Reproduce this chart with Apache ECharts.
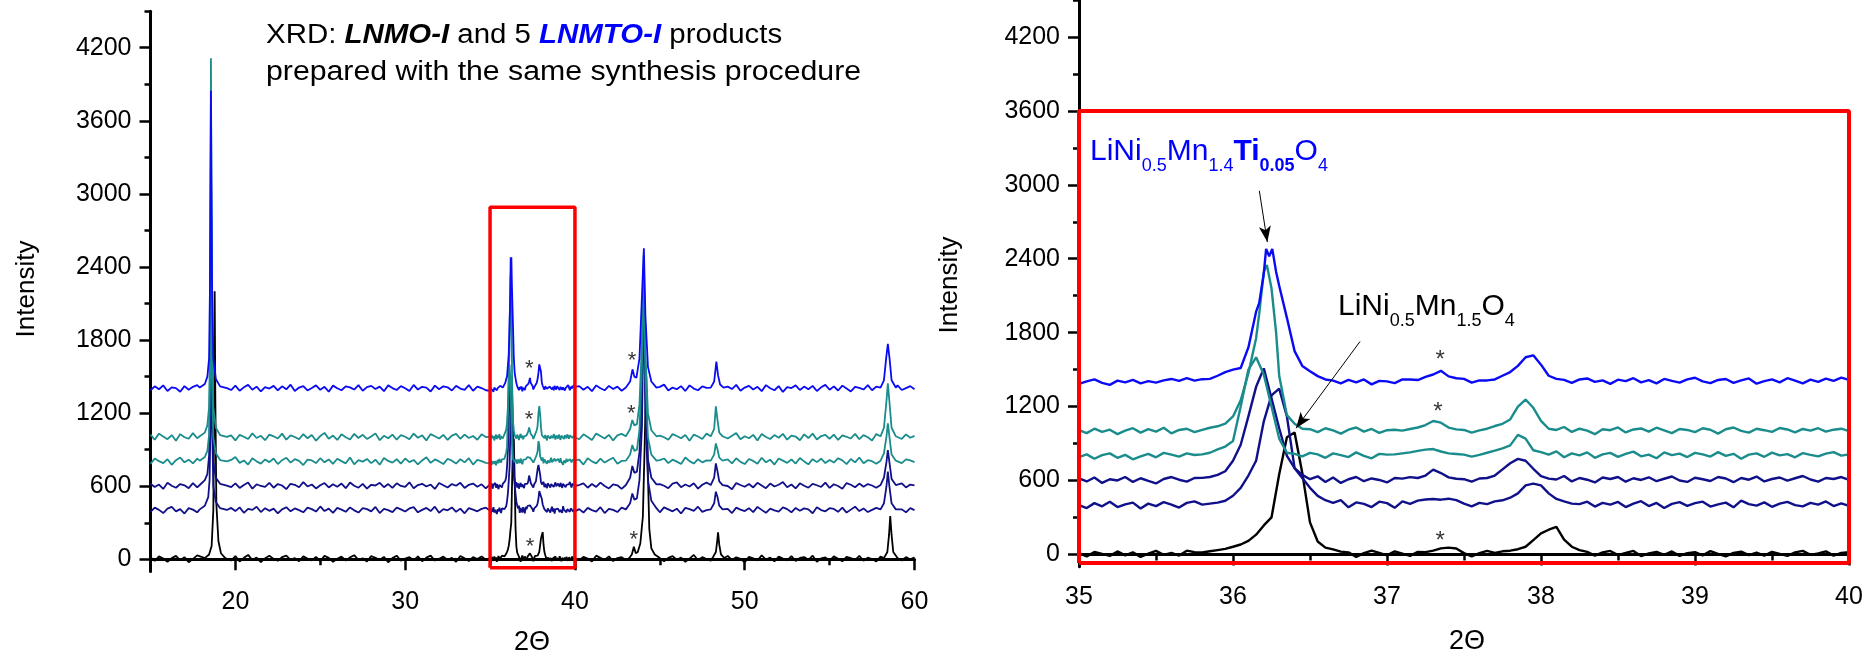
<!DOCTYPE html>
<html>
<head>
<meta charset="utf-8">
<title>XRD: LNMO-I and LNMTO-I</title>
<script src="https://cdn.jsdelivr.net/npm/echarts@6/dist/echarts.min.js"></script>
<style>
  html, body { margin: 0; padding: 0; background: #ffffff; }
  #chart { width: 1875px; height: 659px; }
</style>
</head>
<body>
<div id="chart"></div>
<script>
// ---------------------------------------------------------------------------
// XRD patterns: LNMO-I (black) and five LNMTO-I products, stacked by offset.
// Intensities are counts above each pattern's own baseline.
// ---------------------------------------------------------------------------
const sampleNames  = ['LNMO-I', 'LNMTO-I a', 'LNMTO-I b', 'LNMTO-I c', 'LNMTO-I d', 'LNMTO-I e'];
const sampleColors = ['#000000', '#10108a', '#10108a', '#1a8c8c', '#1a8c8c', '#0a0af5'];
const stackOffsets = [0, 400, 600, 800, 1000, 1400];

// scan grids (2-theta, degrees)
const lowStart = 15.0, highStart = 40.25, wideStep = 0.25;   // coarse scan outside the window
const zoomStart = 35.0, zoomStep = 0.05;                    // fine scan 35-40
const zoomWindow = [35, 40];

// axis ticks
const leftThetaLabels  = [20, 30, 40, 50, 60];
const leftThetaMinor   = [15, 25, 35, 45, 55];
const zoomLabels       = [35, 36, 37, 38, 39, 40];
const zoomMinor        = [35.5, 36.5, 37.5, 38.5, 39.5];
const intensityLabels  = [0, 600, 1200, 1800, 2400, 3000, 3600, 4200];
const intensityMinor   = [300, 900, 1500, 2100, 2700, 3300, 3900, 4500];

// ---- LNMO-I ---------------------------------------------------------------
const lnmoLow = [16,-12,24,6,-20,10,28,-8,18,-24, 4,32,20,12,30,8,-16,22,6,-10, 26,-18,12,36,-6,14,-22,8,30,2, -12,18,30,-4,10,-16,24,6,-8,20,
  -14,28,12,-20,4,22,-10,16,34,-6, 8,-18,26,12,-4,20,-24,10,30,-12, 6,18,-8,24,-16,14,30,-10,4,22, -6,12,-20,28,8,-14,18,2,24,-4];
const lnmoZoom = [10,-16,20,4,-12,24,-8,16,-20,6, 28,-4,12,-10,30,18,15,25,35,45, 62,80,110,160,235,300,650,950,990,660, 260,105,55,40,22,16,-20,10,30,12,
  -8,24,6,-12,20,18,30,49,55,48, 10,-16,10,28,12,25,30,42,62,116, 170,200,223,120,62,35,20,-10,16,28, -6,12,28,-14,8,20,-4,24,-12,10,
  18,-8,26,4,-16,12,22,-6,14,-10, 20,4,-12,16,28,-4,8,24,-10,12,18];
const lnmoHigh = [-8,20,6,-18,30,12,-4,24,-14,10, 18,-6,28,4,-22,16,32,-10,8,22, -16,12,26,-4,14,-20,6,36,-8,18, 2,-12,24,10,-18,28,-6,16,4,-24,
  20,8,-10,32,-2,14,-16,22,6,-8, 26,-14,12,18,-4,30,-20,8,16,-10, 24,4,-16,20,10,-6,28,-12,14,2, -18,22,8,-4,32,12,-10,18,-2,16];
const lnmoPeaks = [
  [[18.2,10],[18.45,40],[18.6,110],[18.7,400],[18.75,1200],[18.78,2200],[18.82,1300],[18.88,450],[19.0,150],[19.15,50],[19.4,10]],
  [[43.2,10],[43.35,40],[43.47,104],[43.58,50],[43.7,60],[43.85,130],[44.0,350],[44.1,900],[44.2,1500],[44.28,800],[44.38,250],[44.5,90],[44.7,40],[45.0,10]],
  [[48.1,10],[48.3,60],[48.38,150],[48.43,221],[48.5,120],[48.6,40],[48.8,10]],
  [[58.2,10],[58.4,60],[58.5,200],[58.57,355],[58.65,200],[58.75,60],[59.0,10]]
];

// ---- LNMTO-I a (offset 400) -----------------------------------------------
const lnmtoALow = [-10,24,6,-20,16,30,-6,12,-24,20, 8,-14,28,4,18,-8,36,-16,10,22, -4,26,-18,14,6,32,-12,20,-2,16, -22,10,28,-6,18,4,-14,24,12,-8,
  34,-4,16,-18,22,8,-10,26,2,-16, 20,12,-6,30,-20,14,4,-12,24,10, -8,18,28,-14,6,22,-4,32,-18,12, 2,26,-10,16,-22,20,8,-6,14,24];
const lnmtoAZoom = [0,-24,16,-10,28,-16,6,20,-28,12, -8,24,4,-20,18,30,4,12,20,35, 76,140,240,360,680,890,945,720,300,220, 140,75,40,18,40,-18,22,10,-16,28,
  16,-22,30,10,36,45,50,44,52,40, 12,-10,18,8,30,39,60,95,160,175, 160,95,50,30,12,8,28,-12,18,4, 26,-16,12,32,-8,18,-24,10,24,-6,
  16,28,-12,6,20,-18,36,8,-4,22, -14,12,26,0,-10,18,4,30,-8,14,-6];
const lnmtoAHigh = [12,-16,22,4,-8,28,-20,14,6,-12, 24,-4,18,-18,30,8,-10,20,2,-14, 26,10,-6,16,-24,22,12,-2,32,-10, 4,18,-16,28,-6,14,-20,24,8,-4,
  20,-12,30,6,-18,16,2,-8,26,12, -14,22,-2,18,10,-22,28,4,-6,20, 14,-10,24,-16,8,32,-4,18,-12,6, 22,-8,16,2,-18,26,10,-14,20,4];
const lnmtoAPeaks = [
  [[17.9,10],[18.2,40],[18.4,110],[18.48,250],[18.53,700],[18.58,2400],[18.63,700],[18.7,200],[18.85,70],[19.1,20],[19.5,5]],
  [[43.0,10],[43.25,60],[43.38,141],[43.5,90],[43.65,100],[43.8,250],[43.95,700],[44.05,1800],[44.15,800],[44.3,250],[44.5,80],[44.8,20]],
  [[48.0,10],[48.2,60],[48.3,155],[48.4,110],[48.5,40],[48.7,10]],
  [[58.0,10],[58.2,60],[58.35,200],[58.43,320],[58.52,200],[58.65,60],[58.9,10]]
];

// ---- LNMTO-I b (offset 600) -----------------------------------------------
const lnmtoBLow = [20,-6,14,-22,28,4,-12,18,8,-16, 26,-10,16,32,-4,12,-18,22,6,-8, 24,-14,10,30,-20,16,2,-6,28,-12, 18,6,-24,20,12,-8,34,-2,14,-18,
  8,26,-10,16,-4,22,-16,30,4,-12, 20,-20,12,6,28,-8,18,-14,24,2, -6,32,-16,10,20,-2,14,-22,26,8, -10,18,4,28,-14,12,22,-4,16,-18];
const lnmtoBZoom = [16,-8,24,-20,10,0,28,-12,18,-4, -24,12,28,6,-10,20,21,28,45,75, 160,290,520,760,910,666,424,200,100,45, 10,34,-12,24,-20,10,28,-6,16,4,
  -16,20,15,27,20,40,88,60,25,14, 10,-10,16,20,40,90,140,175,160,95, 35,15,8,36,-8,20,6,-16,24,12, 28,-10,18,4,26,-6,14,32,0,-12,
  22,10,-4,28,16,-14,20,6,32,-8, 12,24,-2,18,36,8,-10,20,12,28,4];
const lnmtoBHigh = [10,24,-12,18,-6,30,2,-18,16,8, -22,26,12,-4,20,-14,28,6,-10,18, 4,-16,22,32,-8,14,-2,24,-20,12, 30,-6,16,-12,20,2,-24,26,10,-4,
  18,-10,28,6,-16,22,-2,12,34,-8, 14,-18,24,4,-12,20,8,-6,30,-14, 16,2,-20,26,12,-8,22,-4,18,6, -12,28,10,-16,20,-2,24,-10,14,8];
const lnmtoBPeaks = [
  [[17.9,10],[18.2,50],[18.35,100],[18.45,250],[18.52,750],[18.57,2600],[18.62,750],[18.7,200],[18.85,70],[19.1,20],[19.5,5]],
  [[43.0,10],[43.25,70],[43.38,166],[43.5,110],[43.65,120],[43.8,280],[43.95,800],[44.05,1700],[44.15,750],[44.3,220],[44.5,70],[44.8,15]],
  [[48.0,10],[48.2,70],[48.3,188],[48.4,120],[48.5,40],[48.7,10]],
  [[58.0,10],[58.2,70],[58.35,200],[58.43,297],[58.52,200],[58.65,60],[58.9,10]]
];

// ---- LNMTO-I c (offset 800) -----------------------------------------------
const lnmtoCLow = [-16,28,6,-10,22,-24,14,36,-4,18, -12,26,2,-20,32,10,-6,24,-18,16, 40,-8,12,-22,30,4,-14,20,-2,28, -18,14,34,-6,22,8,-26,18,12,-10,
  30,-4,20,-16,26,6,-12,36,-20,14, 2,24,-10,18,-24,32,8,-6,22,-14, 28,-2,16,-20,12,38,-8,20,4,-18, 26,10,-14,22,-4,30,-22,16,6,-8];
const lnmtoCZoom = [-10,12,-24,6,20,-16,8,-28,-4,16, -12,24,10,-6,20,7,12,25,52,75, 120,400,700,800,660,400,140,25,16,-4, 24,12,-16,20,6,-10,28,0,-20,16,
  10,12,20,28,40,50,55,35,20,15, 10,-6,8,25,42,60,85,170,140,45, 30,10,36,-12,20,4,28,-16,12,24, -8,16,34,-4,10,-20,28,6,18,-10,
  24,12,-6,30,0,16,-24,10,20,-8, 26,4,14,-12,22,8,-4,18,30,2,12];
const lnmtoCHigh = [18,-22,30,4,-12,26,-6,16,34,-16, 8,-20,24,12,-8,32,-2,20,-24,14, 28,-10,18,2,-18,36,6,-14,22,-4, 12,-26,26,16,-6,20,-12,30,0,-18,
  24,8,-16,34,-4,18,-22,28,10,-8, 20,-14,32,4,-20,22,-2,26,-10,16, -6,30,12,-18,24,-4,36,-12,14,6, -16,22,8,-24,28,2,-10,20,12,-2];
const lnmtoCPeaks = [
  [[17.9,10],[18.2,40],[18.35,90],[18.45,220],[18.51,700],[18.56,2700],[18.61,750],[18.7,200],[18.85,70],[19.1,15],[19.5,5]],
  [[43.0,10],[43.25,60],[43.38,138],[43.5,90],[43.65,100],[43.8,260],[43.95,800],[44.05,1600],[44.15,700],[44.3,200],[44.5,60],[44.8,10]],
  [[48.0,10],[48.2,60],[48.3,152],[48.4,100],[48.5,35],[48.7,10]],
  [[58.0,10],[58.2,70],[58.35,210],[58.43,317],[58.52,210],[58.65,60],[58.9,10]]
];

// ---- LNMTO-I d (offset 1000) ----------------------------------------------
const lnmtoDLow = [24,-18,32,8,-14,20,-26,28,2,-10, 36,-6,16,-20,26,12,-16,30,-2,18, -24,22,6,-12,34,-4,14,-22,24,10, -8,32,-18,18,4,-14,28,-6,20,-26,
  12,38,-10,16,-20,26,2,-16,30,-4, 22,-12,8,34,-22,14,-6,24,-18,20, 6,-14,32,-2,18,-24,28,10,-8,22, -20,16,30,-10,24,-4,12,-18,26,4];
const lnmtoDZoom = [8,-16,20,-6,12,-24,4,24,-12,16, -4,28,-18,10,20,-8,10,28,40,62, 120,250,470,755,1293,1160,450,130,60,20, 16,-8,24,6,-20,12,30,-4,18,-14,
  8,12,5,18,30,50,83,69,29,15, 10,-12,6,20,42,60,95,200,257,190, 83,20,10,34,-6,20,4,-24,16,8, 30,-10,14,22,-4,28,6,-16,18,10,
  -8,24,12,-20,16,30,2,-12,20,8, -6,26,14,-10,18,4,24,-4,12,20,0];
const lnmtoDHigh = [-14,26,4,-20,32,12,-8,22,-24,18, 30,-4,14,-16,24,6,-22,34,-10,16, 2,-18,28,12,-6,20,-26,24,8,-12, 32,-2,18,-20,26,-8,14,36,-14,10,
  -6,22,-24,28,4,-12,20,-2,30,-18, 16,8,-22,26,-4,32,-16,12,22,-10, 24,-20,18,6,-8,30,-14,20,2,-24, 28,-6,12,-18,22,10,-12,26,-2,14];
const lnmtoDPeaks = [
  [[17.9,10],[18.2,40],[18.35,100],[18.45,250],[18.5,700],[18.56,3113],[18.62,900],[18.7,250],[18.85,80],[19.1,20],[19.5,5]],
  [[36.17,950],[36.2,1293],[36.22,1350],[36.25,1160],[36.28,800]],
  [[43.0,10],[43.25,70],[43.38,144],[43.5,100],[43.65,110],[43.8,270],[43.95,800],[44.05,1500],[44.15,700],[44.3,200],[44.5,60],[44.8,10]],
  [[48.0,10],[48.2,70],[48.3,256],[48.4,140],[48.5,40],[48.7,10]],
  [[58.0,10],[58.2,80],[58.35,300],[58.43,445],[58.52,300],[58.65,80],[58.9,10]]
];

// ---- LNMTO-I e (offset 1400) ----------------------------------------------
const lnmtoELow = [-12,20,-4,28,-18,12,6,-24,22,-8, 16,30,-14,8,-6,24,-20,18,4,-10, 26,-16,12,32,-8,18,-22,14,2,24, -12,20,-4,34,-18,10,22,-14,6,28,
  -8,16,-24,26,4,-12,20,12,-6,30, -16,14,24,-2,18,-20,28,6,-10,22, 4,-18,32,-6,16,10,-22,26,-4,20, 12,-14,24,2,-8,30,-16,18,6,-12];
const lnmtoEZoom = [-16,4,20,-8,-24,10,-4,16,-12,6, -6,12,24,8,30,10,22,25,50,80, 100,113,280,570,900,1050,780,520,250,130, 87,47,20,10,-12,16,-4,20,-20,8,
  4,-10,20,20,15,40,60,90,45,30, 25,-6,12,12,20,50,80,130,200,216, 140,50,25,16,-8,20,28,0,12,-16, 18,6,30,-4,14,-12,24,8,-6,20,
  34,4,-10,16,24,-8,12,28,-14,6, 20,-4,30,10,-12,18,0,26,8,34,16];
const lnmtoEHigh = [22,-8,16,-20,28,4,-12,24,-2,18, -16,30,6,-10,20,-24,26,12,-6,16, 34,-14,10,-4,22,-18,28,2,-12,20, 8,-22,26,14,-8,18,-2,32,-16,10,
  24,-6,16,-20,30,4,-12,22,-26,14, 6,28,-10,18,-4,24,-18,12,32,-8, 20,-14,26,2,-22,16,8,-6,30,-12, 18,-2,24,-16,12,28,-10,6,22,-4];
const lnmtoEPeaks = [
  [[17.9,10],[18.2,40],[18.35,100],[18.45,250],[18.5,800],[18.56,2447],[18.62,900],[18.7,250],[18.85,80],[19.1,20],[19.5,5]],
  [[36.17,640],[36.2,880],[36.215,1080],[36.235,1020],[36.255,1080],[36.28,893],[36.3,780]],
  [[43.0,10],[43.25,60],[43.39,160],[43.5,100],[43.62,90],[43.8,250],[43.93,700],[44.06,1153],[44.15,600],[44.3,180],[44.5,60],[44.8,10]],
  [[48.0,10],[48.2,60],[48.33,223],[48.43,110],[48.55,35],[48.75,10]],
  [[58.0,10],[58.2,70],[58.33,250],[58.43,368],[58.53,250],[58.65,70],[58.9,10]]
];

// impurity reflections marked with asterisks (2-theta, stacked intensity)
const leftStars  = [[37.31, 1603], [43.36, 1672], [37.29, 1188], [43.32, 1231], [37.35, 145], [43.46, 200]];
const rightStars = [[37.345, 1621], [37.33, 1204], [37.345, 155]];

// framed 35-40 window (intensity span of the frame in each panel)
const leftFrameIntensity  = [-70, 2890];
const rightFrameIntensity = [-70, 3600];

// arrows pointing at the (311) reflections in the fine scan
const tiArrow   = [[36.171, 2951], [36.223, 2535]];
const lnmoArrow = [[36.825, 1728], [36.409, 1024]];

// ---------------------------------------------------------------------------
const lowScans  = [lnmoLow, lnmtoALow, lnmtoBLow, lnmtoCLow, lnmtoDLow, lnmtoELow];
const zoomScans = [lnmoZoom, lnmtoAZoom, lnmtoBZoom, lnmtoCZoom, lnmtoDZoom, lnmtoEZoom];
const highScans = [lnmoHigh, lnmtoAHigh, lnmtoBHigh, lnmtoCHigh, lnmtoDHigh, lnmtoEHigh];
const peakScans = [lnmoPeaks, lnmtoAPeaks, lnmtoBPeaks, lnmtoCPeaks, lnmtoDPeaks, lnmtoEPeaks];

function buildPattern(i) {
  const pts = [];
  lowScans[i].forEach((v, k) => pts.push([+(lowStart + k * wideStep).toFixed(3), v]));
  zoomScans[i].forEach((v, k) => pts.push([+(zoomStart + k * zoomStep).toFixed(3), v]));
  highScans[i].forEach((v, k) => pts.push([+(highStart + k * wideStep).toFixed(3), v]));
  // step-scan segments over the reflections replace the coarse points they span
  const spans = peakScans[i].map(seg => [seg[0][0], seg[seg.length - 1][0]]);
  const kept = pts.filter(p => !spans.some(s => p[0] >= s[0] - 1e-6 && p[0] <= s[1] + 1e-6));
  peakScans[i].forEach(seg => seg.forEach(p => kept.push(p.slice())));
  kept.sort((a, b) => a[0] - b[0]);
  return kept.map(p => [p[0], p[1] + stackOffsets[i]]);
}
const patterns = sampleNames.map((_, i) => buildPattern(i));

function frame(xr, yr) {
  return [[xr[0], yr[0]], [xr[1], yr[0]], [xr[1], yr[1]], [xr[0], yr[1]], [xr[0], yr[0]]];
}

// ---------------------------------------------------------------------------
const FONT = '"Liberation Sans", Arial, Helvetica, sans-serif';
const measureCtx = document.createElement('canvas').getContext('2d');
function fontOf(p) {
  return (p.italic ? 'italic ' : '') + (p.bold ? 'bold ' : '') + p.size + 'px ' + FONT;
}
// lays out a run of text pieces on a common baseline (subscripts dropped)
function textRun(x, baseline, pieces, color, stretch) {
  const sx = stretch || 1;
  let cx = x;
  const els = [];
  pieces.forEach(p => {
    const font = fontOf(p);
    measureCtx.font = font;
    const w = measureCtx.measureText(p.text).width;
    const b = baseline + (p.drop || 0);
    els.push({
      type: 'text', x: cx, y: b - 0.3465 * p.size, scaleX: sx, silent: true, z: 100,
      style: { text: p.text, font: font, fill: p.color || color, textAlign: 'left', verticalAlign: 'middle' }
    });
    cx += w * sx;
  });
  return els;
}
const MAIN = 30, SUB = 18, DROP = 10.5, TITLE = 27;
const graphics = [].concat(
  textRun(266, 45, [
    { text: 'XRD: ', size: TITLE },
    { text: 'LNMO-I', size: TITLE, bold: true, italic: true },
    { text: ' and 5 ', size: TITLE },
    { text: 'LNMTO-I', size: TITLE, bold: true, italic: true, color: '#0000ff' },
    { text: ' products', size: TITLE }
  ], '#000', 1.09),
  textRun(266, 81.7, [{ text: 'prepared with the same synthesis procedure', size: TITLE }], '#000', 1.12),
  textRun(1090, 162, [
    { text: 'LiNi', size: MAIN }, { text: '0.5', size: SUB, drop: DROP },
    { text: 'Mn', size: MAIN }, { text: '1.4', size: SUB, drop: DROP },
    { text: 'Ti', size: MAIN, bold: true }, { text: '0.05', size: SUB, drop: DROP, bold: true },
    { text: 'O', size: MAIN }, { text: '4', size: SUB, drop: DROP }
  ], '#0000ff'),
  textRun(1338, 317, [
    { text: 'LiNi', size: MAIN }, { text: '0.5', size: SUB, drop: DROP },
    { text: 'Mn', size: MAIN }, { text: '1.5', size: SUB, drop: DROP },
    { text: 'O', size: MAIN }, { text: '4', size: SUB, drop: DROP }
  ], '#000'),
  [
    { type: 'text', x: 27, y: 289, rotation: Math.PI / 2, silent: true,
      style: { text: 'Intensity', font: '26px ' + FONT, fill: '#000', textAlign: 'center', verticalAlign: 'middle' } },
    { type: 'text', x: 950, y: 285, rotation: Math.PI / 2, silent: true,
      style: { text: 'Intensity', font: '26px ' + FONT, fill: '#000', textAlign: 'center', verticalAlign: 'middle' } },
    { type: 'text', x: 532, y: 643, silent: true,
      style: { text: '2\u0398', font: '27px ' + FONT, fill: '#000', textAlign: 'center', verticalAlign: 'middle' } },
    { type: 'text', x: 1467, y: 642, silent: true,
      style: { text: '2\u0398', font: '27px ' + FONT, fill: '#000', textAlign: 'center', verticalAlign: 'middle' } }
  ]
);

// ---------------------------------------------------------------------------
const axisLine = { show: true, lineStyle: { color: '#000', width: 3 } };
const labelStyle = { color: '#000', fontSize: 25, fontFamily: FONT, formatter: v => String(v) };

function majorX(gridIndex, min, max, labels) {
  return {
    type: 'value', gridIndex, min, max, position: 'bottom',
    axisLine, splitLine: { show: false },
    axisTick: { show: true, length: 11, lineStyle: { color: '#000', width: 2.5 }, customValues: labels },
    axisLabel: Object.assign({ margin: 18, customValues: labels }, labelStyle)
  };
}
function minorX(gridIndex, min, max, ticks) {
  return {
    type: 'value', gridIndex, min, max, position: 'bottom', offset: 0,
    axisLine: { show: false }, splitLine: { show: false },
    axisTick: { show: true, length: 6, lineStyle: { color: '#000', width: 2.5 }, customValues: ticks },
    axisLabel: { show: false }
  };
}
function majorY(gridIndex) {
  return {
    type: 'value', gridIndex, min: -100, max: 4500, position: 'left',
    axisLine, splitLine: { show: false },
    axisTick: { show: true, length: 11, lineStyle: { color: '#000', width: 2.5 }, customValues: intensityLabels },
    axisLabel: Object.assign({ margin: 19, customValues: intensityLabels }, labelStyle)
  };
}
function minorY(gridIndex) {
  return {
    type: 'value', gridIndex, min: -100, max: 4500, position: 'left', offset: 0,
    axisLine: { show: false }, splitLine: { show: false },
    axisTick: { show: true, length: 6, lineStyle: { color: '#000', width: 2.5 }, customValues: intensityMinor },
    axisLabel: { show: false }
  };
}

const series = [];
patterns.forEach((data, i) => {
  series.push({
    name: sampleNames[i], type: 'line', xAxisIndex: 0, yAxisIndex: 0, data,
    symbol: 'none', lineStyle: { color: sampleColors[i], width: 1.8 }, z: 2, silent: true
  });
});
patterns.forEach((data, i) => {
  series.push({
    name: sampleNames[i], type: 'line', xAxisIndex: 2, yAxisIndex: 2,
    data: data.filter(p => p[0] >= zoomWindow[0] - 0.1 && p[0] <= zoomWindow[1] + 0.1),
    symbol: 'none', lineStyle: { color: sampleColors[i], width: 2.4 }, z: 2, silent: true
  });
});
series.push({
  type: 'line', xAxisIndex: 0, yAxisIndex: 0, data: frame(zoomWindow, leftFrameIntensity),
  symbol: 'none', clip: false, lineStyle: { color: '#ff0000', width: 3.5 }, z: 5, silent: true
});
series.push({
  type: 'line', xAxisIndex: 2, yAxisIndex: 2, data: frame(zoomWindow, rightFrameIntensity),
  symbol: 'none', clip: false, lineStyle: { color: '#ff0000', width: 4 }, z: 5, silent: true,
  markLine: {
    silent: true, animation: false, symbol: ['none', 'arrow'], symbolSize: [9, 16],
    lineStyle: { color: '#000', width: 1, type: 'solid' }, label: { show: false },
    emphasis: { disabled: true },
    data: [
      [{ coord: tiArrow[0] }, { coord: tiArrow[1] }],
      [{ coord: lnmoArrow[0] }, { coord: lnmoArrow[1] }]
    ]
  }
});
function starSeries(xi, yi, data, size) {
  return {
    type: 'scatter', xAxisIndex: xi, yAxisIndex: yi, data, symbolSize: 1, silent: true, z: 6,
    itemStyle: { color: 'transparent' },
    label: { show: true, position: 'inside', formatter: '*', color: '#000', fontSize: size, fontFamily: FONT,
             offset: [0, Math.round(size * 0.23)] }
  };
}
series.push(starSeries(0, 0, leftStars, 22));
series.push(starSeries(2, 2, rightStars, 24));

const chart = echarts.init(document.getElementById('chart'), null, { renderer: 'canvas', width: 1875, height: 659 });
chart.setOption({
  animation: false,
  backgroundColor: '#ffffff',
  textStyle: { fontFamily: FONT },
  grid: [
    { left: 150.5, top: 11.2, width: 764, height: 560.3, containLabel: false },
    { left: 1079, top: -3.7, width: 770, height: 570.4, containLabel: false }
  ],
  xAxis: [
    majorX(0, 15, 60, leftThetaLabels),
    minorX(0, 15, 60, leftThetaMinor),
    majorX(1, zoomWindow[0], zoomWindow[1], zoomLabels),
    minorX(1, zoomWindow[0], zoomWindow[1], zoomMinor)
  ],
  yAxis: [majorY(0), minorY(0), majorY(1), minorY(1)],
  series,
  graphic: graphics
});
</script>
</body>
</html>
